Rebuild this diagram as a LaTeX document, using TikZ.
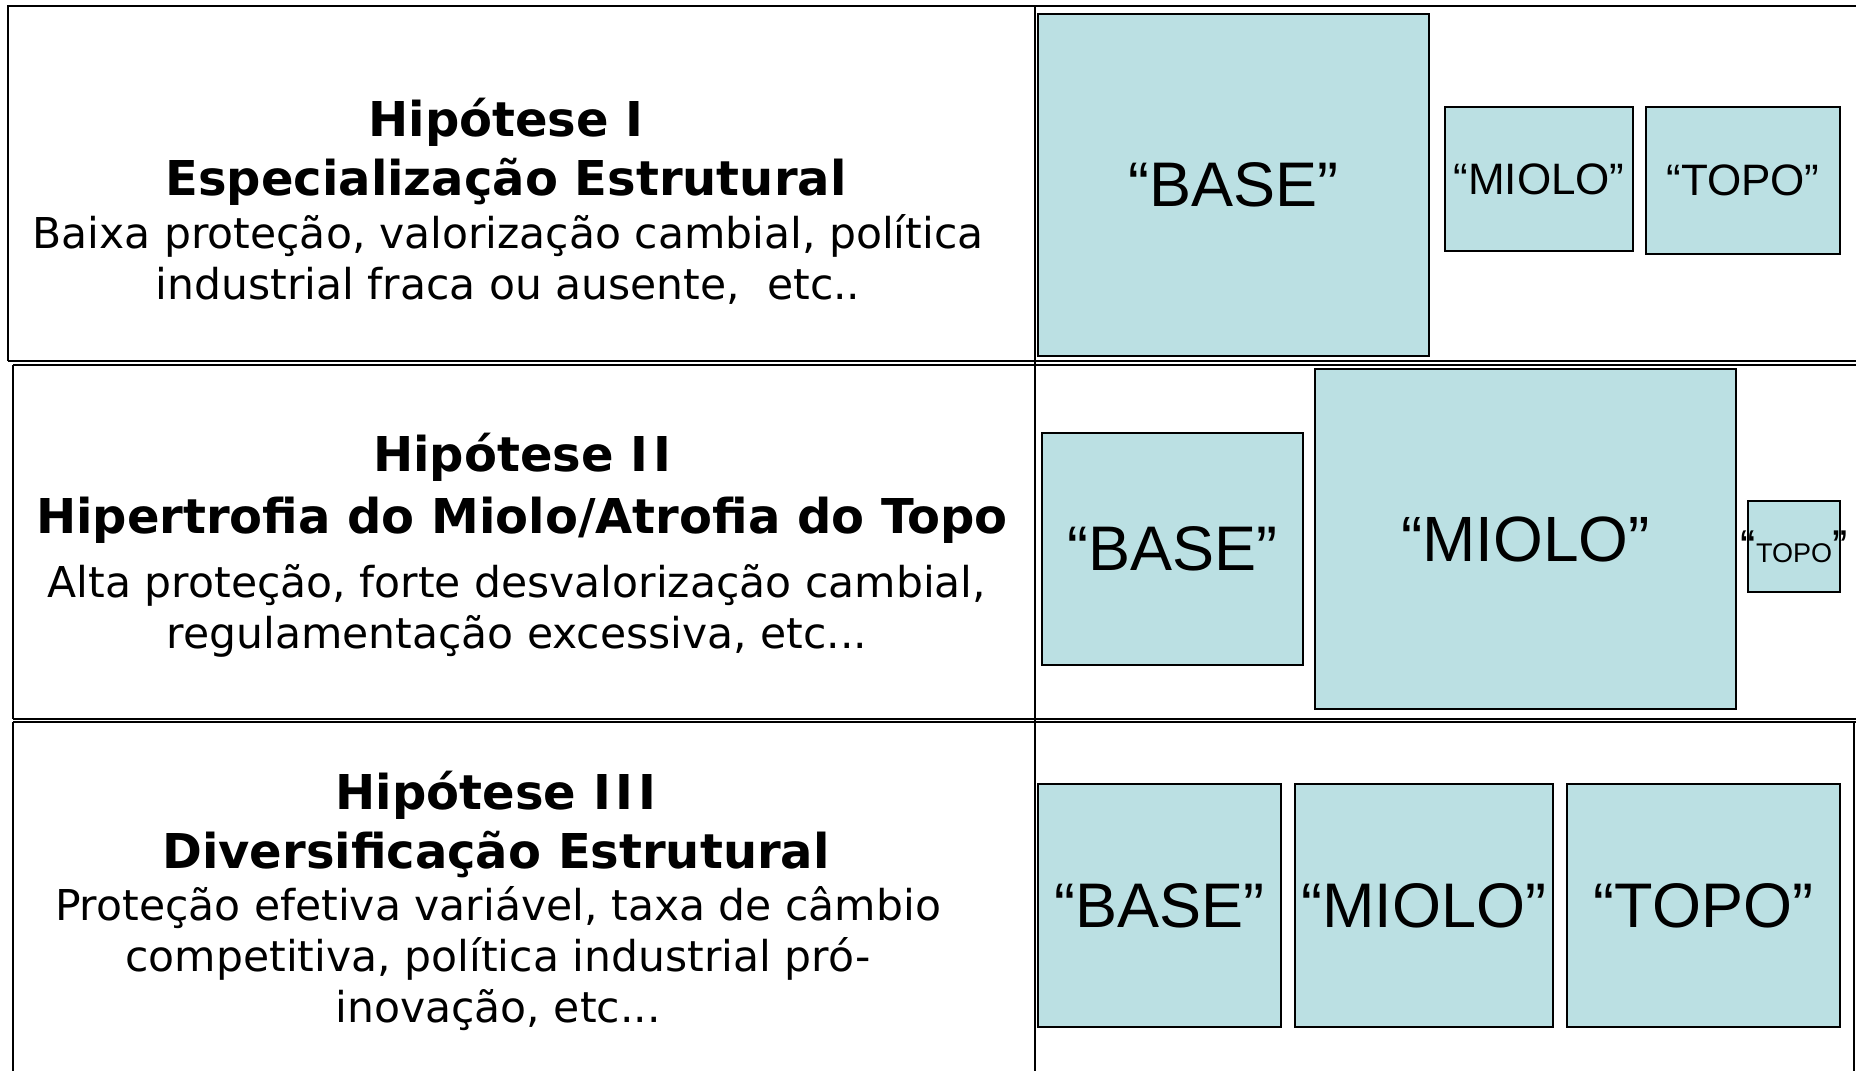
\documentclass[tikz,border=0pt]{standalone}
\usepackage{fontspec}
\setmainfont{DejaVu Sans}
\newfontfamily\arialf{Liberation Sans}
\definecolor{boxfill}{RGB}{187,224,227}
\tikzset{
  frame/.style={line width=2pt},
  blk/.style={draw, fill=boxfill, line width=2pt, inner sep=0pt, font=\arialf},
  hyptitle/.style={align=center, font=\bfseries\fontsize{48}{59}\selectfont},
  hyptext/.style={align=center, font=\fontsize{42.5}{51}\selectfont},
}
\newcommand{\lbl}[2]{\fontsize{#1}{#1}\selectfont#2}
\newcommand{\romI}{I\kern.1em}

\begin{document}
\begin{tikzpicture}[x=1pt, y=-1pt]
    \useasboundingbox (0,0) rectangle (1856,1071);
    % table
    \draw[frame] (8,361) -- (8,6) -- (1856,6);
    \draw[frame] (1035,6) -- (1035,1071);
    \foreach \ya/\yb/\xl in {361/365/8, 719/722/13}{
        \draw[frame] (\xl,\ya) -- (1856,\ya);
        \draw[frame] (13,\yb) -- (1856,\yb);
    }
    \draw[frame] (13,365) -- (13,719);
    \draw[frame] (13,722) -- (13,1071);
    \draw[frame] (1854,722) -- (1854,1071);

    % Hipotese I
    \node[hyptitle] (tit1) at (506,152) {Hipótese I\\Especialização Estrutural};
    \node[hyptext] (txt1) at (508,259) {Baixa proteção, valorização cambial, política\\industrial fraca ou ausente, \ etc..};
    \node[blk, minimum width=391, minimum height=342] (base1) at (1233.5,185) {\lbl{63}{“BASE”}};
    \node[blk, minimum width=188, minimum height=144] (miolo1) at (1539,179) {\lbl{44}{“MIOLO”}};
    \node[blk, minimum width=194, minimum height=147] (topo1) at (1743,180.5) {\lbl{44}{“TOPO”}};

    % Hipotese II
    \node[hyptitle, font=\bfseries\fontsize{48}{62}\selectfont] (tit2) at (522,488) {Hipótese \romI I\\Hipertrofia do Miolo/Atrofia do Topo};
    \node[hyptext] (txt2) at (517,611) {Alta proteção, forte desvalorização cambial,\\regulamentação excessiva, etc...};
    \node[blk, minimum width=261, minimum height=232] (base2) at (1172.5,549) {\lbl{63}{“BASE”}};
    \node[blk, minimum width=421, minimum height=340] (miolo2) at (1525.5,539) {\lbl{64}{“MIOLO”}};
    \node[blk, minimum width=92, minimum height=91] (topo2) at (1794,546.5)
        {\makebox[0pt]{\lbl{46}{“}\lbl{27}{TOPO}\lbl{46}{”}}};

    % Hipotese III
    \node[hyptitle] (tit3) at (496,824) {Hipótese \romI\romI I\\Diversificação Estrutural};
    \node[hyptext] (txt3) at (498,959) {Proteção efetiva variável, taxa de câmbio\\competitiva, política industrial pró-\\inovação, etc...};
    \node[blk, minimum width=243, minimum height=243] (base3) at (1159.5,905.5) {\lbl{63}{“BASE”}};
    \node[blk, minimum width=258, minimum height=243] (miolo3) at (1424,905.5) {\lbl{63}{“MIOLO”}};
    \node[blk, minimum width=273, minimum height=243] (topo3) at (1703.5,905.5) {\lbl{63}{“TOPO”}};
\end{tikzpicture}
\end{document}
